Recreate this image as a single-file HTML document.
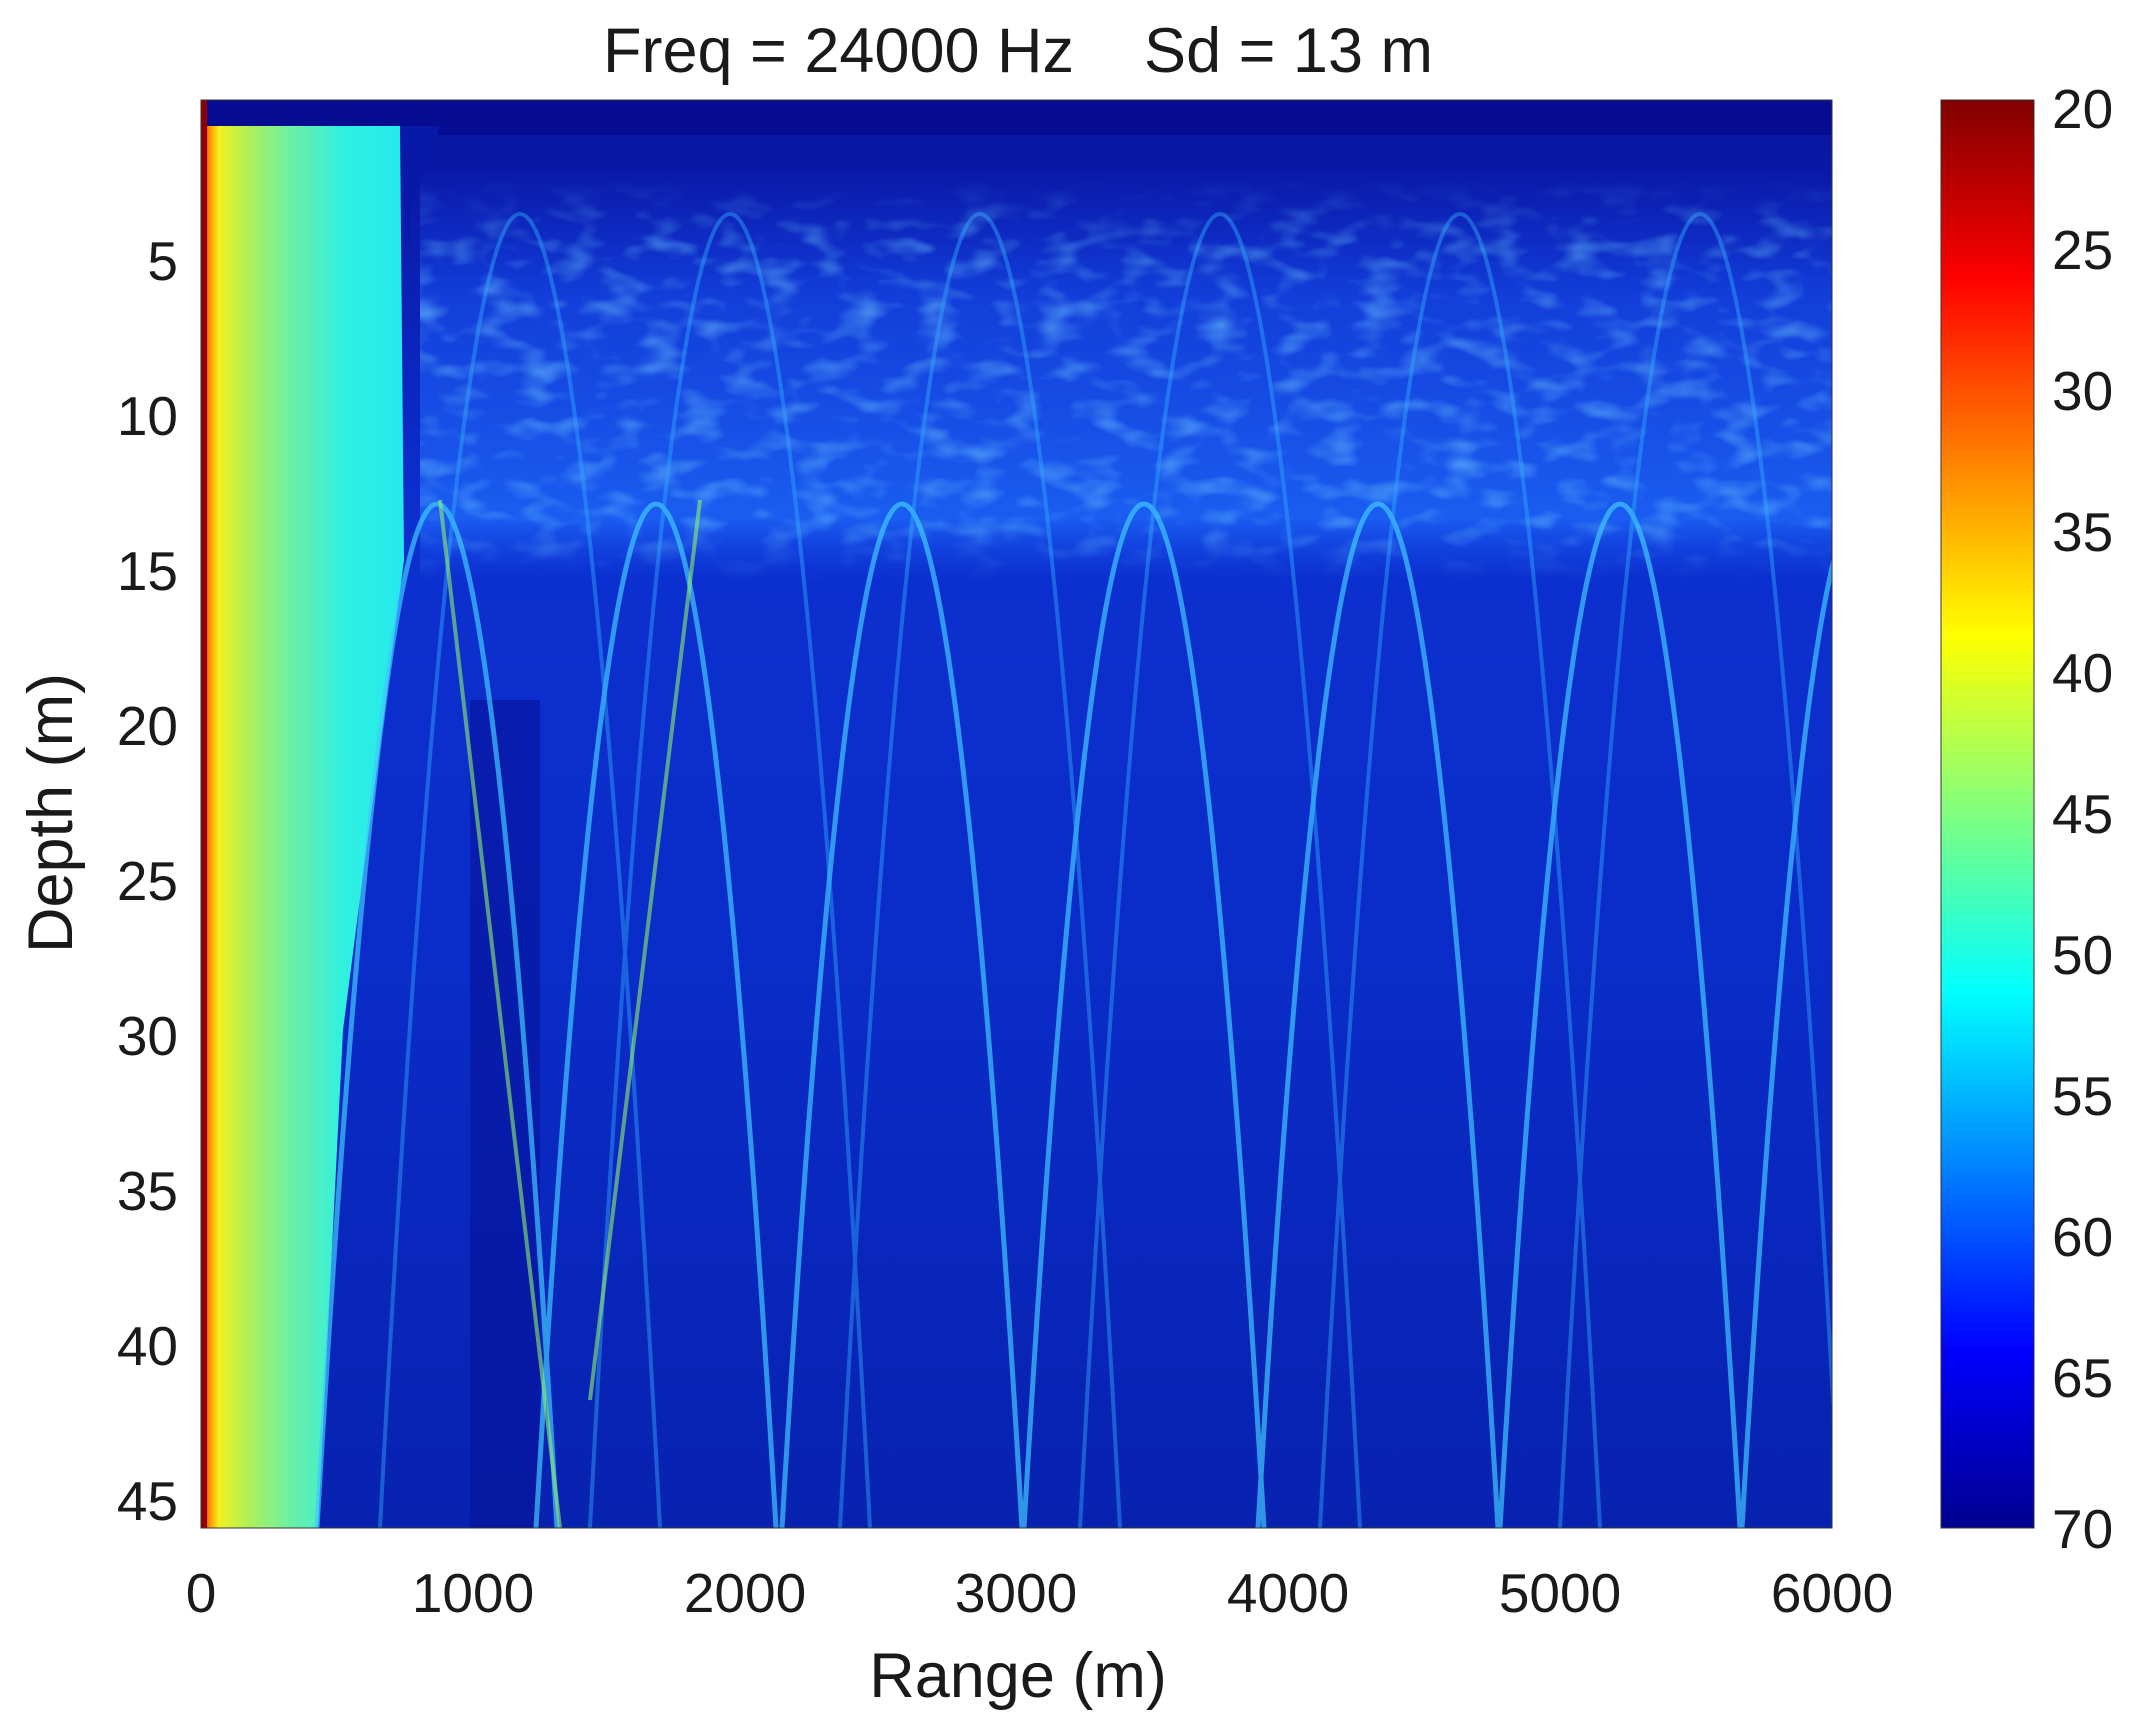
<!DOCTYPE html>
<html><head><meta charset="utf-8"><style>
html,body{margin:0;padding:0;background:#fff;}
svg{display:block;}
text{font-family:"Liberation Sans",Arial,sans-serif;fill:#1a1a1a;}
</style></head><body>
<svg width="2133" height="1733" viewBox="0 0 2133 1733" xmlns="http://www.w3.org/2000/svg">
<defs>
<linearGradient id="cb" x1="0" y1="0" x2="0" y2="1">
<stop offset="0" stop-color="#800000"/><stop offset="0.125" stop-color="#ff0000"/>
<stop offset="0.375" stop-color="#ffff00"/><stop offset="0.625" stop-color="#00ffff"/>
<stop offset="0.875" stop-color="#0000ff"/><stop offset="1" stop-color="#00008f"/>
</linearGradient>
<linearGradient id="left" x1="199" y1="0" x2="420" y2="0" gradientUnits="userSpaceOnUse">
<stop offset="0" stop-color="#900000"/><stop offset="0.02" stop-color="#ff2000"/>
<stop offset="0.05" stop-color="#ff9a00"/><stop offset="0.09" stop-color="#f4f020"/>
<stop offset="0.2" stop-color="#b8f050"/><stop offset="0.4" stop-color="#70f0a0"/>
<stop offset="0.65" stop-color="#30f0e0"/><stop offset="1" stop-color="#20e8f0"/>
</linearGradient>
<linearGradient id="band" x1="0" y1="0" x2="0" y2="1">
<stop offset="0" stop-color="#1040e0" stop-opacity="0"/>
<stop offset="0.3" stop-color="#1850f0" stop-opacity="0.6"/>
<stop offset="0.85" stop-color="#2070ff" stop-opacity="0.7"/>
<stop offset="1" stop-color="#1850f0" stop-opacity="0"/>
</linearGradient>
<linearGradient id="fade" x1="0" y1="0" x2="0" y2="1">
<stop offset="0" stop-color="#fff" stop-opacity="0"/>
<stop offset="0.15" stop-color="#fff" stop-opacity="1"/>
<stop offset="0.85" stop-color="#fff" stop-opacity="1"/>
<stop offset="1" stop-color="#fff" stop-opacity="0"/>
</linearGradient>
<mask id="m"><rect x="420" y="180" width="1412" height="400" fill="url(#fade)"/></mask>
<linearGradient id="bg" x1="0" y1="0" x2="0" y2="1">
<stop offset="0" stop-color="#0a14a0"/><stop offset="0.3" stop-color="#0c30d0"/>
<stop offset="0.6" stop-color="#0a2cc8"/><stop offset="1" stop-color="#0822b0"/>
</linearGradient>
<filter id="noise" x="0" y="0" width="1" height="1">
<feTurbulence type="fractalNoise" baseFrequency="0.025 0.05" numOctaves="2" seed="4"/>
<feColorMatrix values="0 0 0 0 0.15  0 0 0 0 0.55  0 0 0 0 1  0 0 0 2.2 -1.05"/>
</filter>
<clipPath id="plot"><rect x="201" y="100" width="1631" height="1428"/></clipPath>
</defs>
<rect x="201" y="100" width="1631" height="1428" fill="url(#bg)"/>
<g clip-path="url(#plot)">
<rect x="201" y="100" width="1631" height="35" fill="#060c90"/>
<rect x="420" y="170" width="1412" height="410" fill="url(#band)"/>
<rect x="420" y="180" width="1412" height="400" filter="url(#noise)" opacity="0.6" mask="url(#m)"/>
<rect x="470" y="700" width="70" height="828" fill="#06129a" opacity="0.6"/>
<path d="M201 126 L400 126 L404 560 L343 1030 L318 1528 L201 1528 Z" fill="url(#left)"/>
<path d="M400 126 L440 126 L410 210 L410 260 Z" fill="#0818a8"/>
<g fill="none" stroke="#40c8ff" stroke-width="5" opacity="0.7">
<path d="M317 1528 Q437 -520 557 1528"/>
<path d="M536 1528 Q656 -520 776 1528"/>
<path d="M782 1528 Q902 -520 1022 1528"/>
<path d="M1024 1528 Q1144 -520 1264 1528"/>
<path d="M1258 1528 Q1378 -520 1498 1528"/>
<path d="M1500 1528 Q1620 -520 1740 1528"/>
<path d="M1742 1528 Q1862 -520 1982 1528"/>
</g>
<g fill="none" stroke="#30a8ff" stroke-width="4" opacity="0.45">
<path d="M380 1528 Q520 -1100 660 1528"/>
<path d="M590 1528 Q730 -1100 870 1528"/>
<path d="M840 1528 Q980 -1100 1120 1528"/>
<path d="M1080 1528 Q1220 -1100 1360 1528"/>
<path d="M1320 1528 Q1460 -1100 1600 1528"/>
<path d="M1560 1528 Q1700 -1100 1840 1528"/>
</g>
<g fill="none" stroke="#90f070" stroke-width="4" opacity="0.6">
<path d="M440 500 L560 1528"/>
<path d="M700 500 L590 1400"/>
</g>
<rect x="201" y="100" width="6" height="1428" fill="#900000"/>
</g>
<rect x="201" y="100" width="1631" height="1428" fill="none" stroke="#333" stroke-width="1"/>
<g font-size="55" text-anchor="end">
<text x="178" y="280">5</text><text x="178" y="435">10</text><text x="178" y="590">15</text>
<text x="178" y="745">20</text><text x="178" y="900">25</text><text x="178" y="1055">30</text>
<text x="178" y="1210">35</text><text x="178" y="1365">40</text><text x="178" y="1520">45</text>
</g>
<g font-size="55" text-anchor="middle">
<text x="201" y="1612">0</text><text x="473" y="1612">1000</text><text x="745" y="1612">2000</text>
<text x="1016" y="1612">3000</text><text x="1288" y="1612">4000</text><text x="1560" y="1612">5000</text>
<text x="1832" y="1612">6000</text>
<text x="1018" y="1697" font-size="63">Range (m)</text>
<text x="1018" y="72" font-size="63" xml:space="preserve">Freq = 24000 Hz    Sd = 13 m</text>
</g>
<text x="72" y="813" font-size="63" text-anchor="middle" transform="rotate(-90 72 813)">Depth (m)</text>
<rect x="1941" y="100" width="93" height="1428" fill="url(#cb)" stroke="#333" stroke-width="1"/>
<g font-size="55" text-anchor="start">
<text x="2052" y="128">20</text><text x="2052" y="269">25</text><text x="2052" y="410">30</text>
<text x="2052" y="551">35</text><text x="2052" y="692">40</text><text x="2052" y="833">45</text>
<text x="2052" y="974">50</text><text x="2052" y="1115">55</text><text x="2052" y="1256">60</text>
<text x="2052" y="1397">65</text><text x="2052" y="1548">70</text>
</g>
</svg>
</body></html>
